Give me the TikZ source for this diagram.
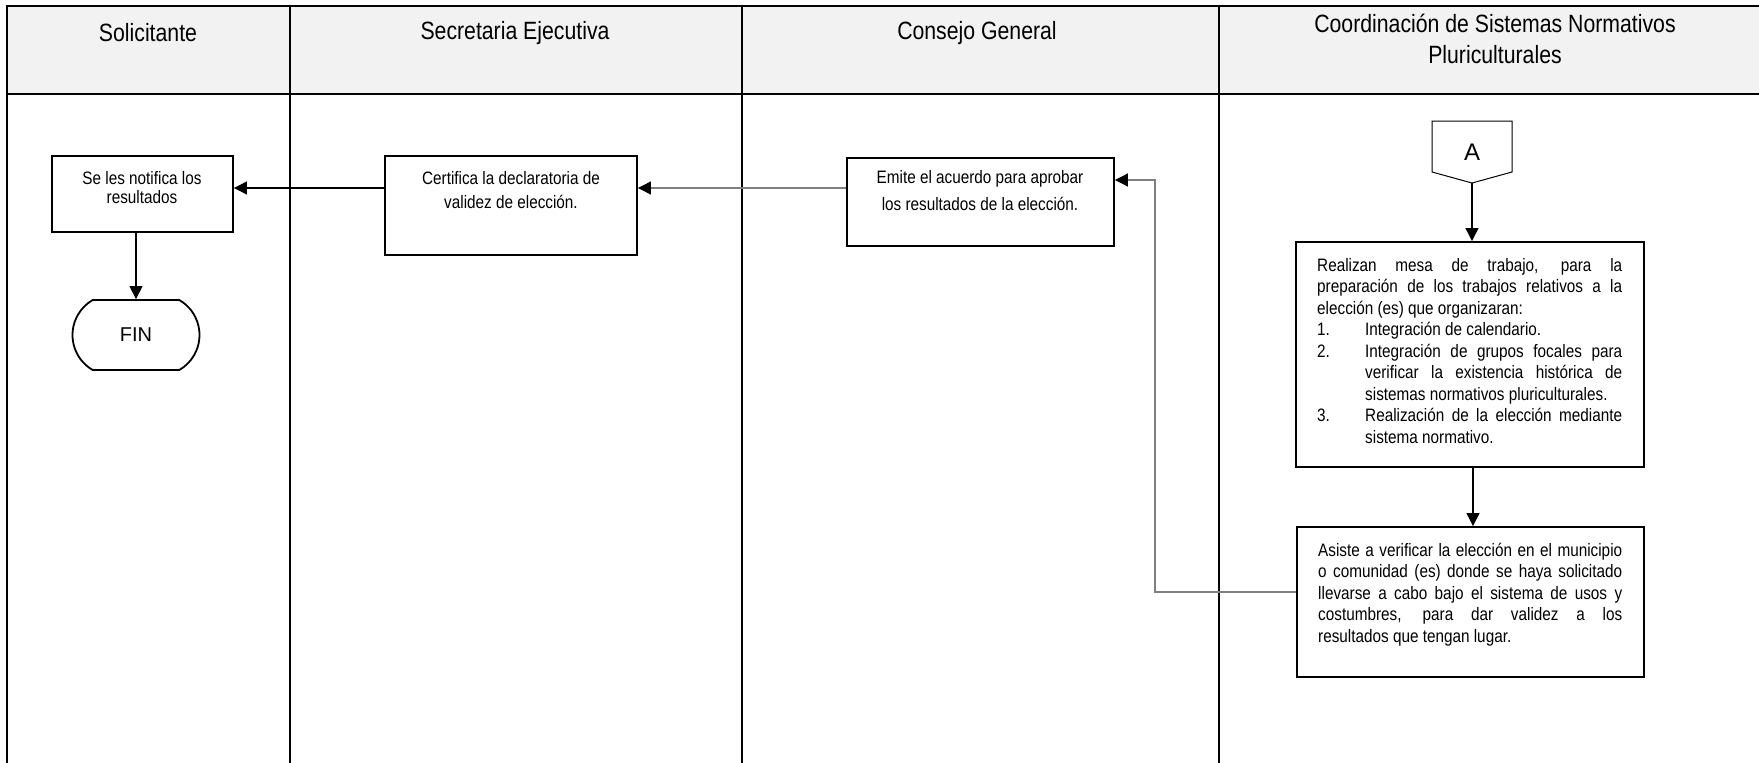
\documentclass[tikz,border=0pt]{standalone}
\usepackage{fontspec}
\setmainfont{Liberation Sans}
\newfontfamily\nar[FakeStretch=0.85]{Liberation Sans}
\usetikzlibrary{arrows.meta,shapes.misc,shadows}
\newcommand\lstitem[1]{\par\leftskip=48pt\noindent\llap{\makebox[48pt][l]{#1}}}
\begin{document}
\begin{tikzpicture}[x=1pt,y=-1pt,
  lane/.style={line width=2pt},
  box/.style={draw, line width=1.9pt, fill=white, inner sep=0pt,
    drop shadow={shadow xshift=1.3pt, shadow yshift=-1.3pt, fill=black!40, opacity=1}},
  hdr/.style={font=\nar\fontsize{25}{31}\selectfont, align=center, inner sep=0pt},
  txt/.style={inner sep=0pt},
  blk/.style={-{Triangle[length=13pt,width=13pt]}, line width=1.2pt},
  gry/.style={draw=black!50, -{Triangle[length=13pt,width=13pt,color=black]}, line width=1.2pt},
]
\useasboundingbox (0,0) rectangle (1759,763);
% header
\fill[black!5] (7,6) rectangle (1759,94);
\draw[lane] (6,6) -- (1759,6);
\draw[lane] (6,94) -- (1759,94);
\draw[lane] (7,5) -- (7,763);
\draw[lane] (290,5) -- (290,763);
\draw[lane] (742,5) -- (742,763);
\draw[lane] (1219,5) -- (1219,763);
\node[hdr] (h1) at (148,33) {Solicitante};
\node[hdr] (h2) at (515,33) {Secretaria Ejecutiva};
\node[hdr] (h3) at (977,33) {Consejo General};
\node[hdr] (h4) at (1495,39) {Coordinación de Sistemas Normativos\\Pluriculturales};

% Solicitante
\node[box, minimum width=181pt, minimum height=76pt] (notif) at (142.5,194) {};
\node[txt, align=center, anchor=north, font=\nar\fontsize{18}{19}\selectfont] (notift) at (142,171) {Se les notifica los\\resultados};
\node[draw, rounded rectangle, rounded rectangle arc length=120, line width=1.8pt,
  minimum width=127pt, minimum height=70pt, inner sep=0pt,
  font=\fontsize{20}{24}\selectfont] (fin) at (136,335) {FIN};

% Secretaria
\node[box, minimum width=252pt, minimum height=99pt] (cert) at (511,205.5) {};
\node[txt, align=center, anchor=north, font=\nar\fontsize{18}{24}\selectfont] (certt) at (511,171) {Certifica la declaratoria de\\validez de elección.};

% Consejo
\node[box, minimum width=267pt, minimum height=88pt] (emite) at (980.5,202) {};
\node[txt, align=center, anchor=north, font=\nar\fontsize{18}{27}\selectfont] (emitet) at (980,170) {Emite el acuerdo para aprobar\\los resultados de la elección.};

% Coordinacion
\draw[line width=1pt] (1432,121) -- (1512,121) -- (1512,172) -- (1472,183) -- (1432,172) -- cycle;
\node[font=\fontsize{24}{28}\selectfont, inner sep=0pt] (A) at (1472,152) {A};
\coordinate (Apt) at (1472,183);

\node[box, minimum width=348pt, minimum height=225pt] (real) at (1470,354.5) {};
\node[txt, anchor=north west, text width=305pt, align=justify, font=\nar\fontsize{18}{21.5}\selectfont] (realt) at (1317,258)
{Realizan mesa de trabajo, para la\linebreak preparación de los trabajos relativos a la\linebreak elección (es) que organizaran:
\lstitem{1.}Integración de calendario.
\lstitem{2.}Integración de grupos focales para\linebreak verificar la existencia histórica de\linebreak sistemas normativos pluriculturales.
\lstitem{3.}Realización de la elección mediante\linebreak sistema normativo.\par};

\node[box, minimum width=347pt, minimum height=150pt] (asis) at (1470.5,602) {};
\node[txt, anchor=north west, text width=304pt, align=justify, font=\nar\fontsize{18}{21.5}\selectfont] (asist) at (1318,543)
{Asiste a verificar la elección en el municipio\linebreak o comunidad (es) donde se haya solicitado\linebreak llevarse a cabo bajo el sistema de usos y\linebreak costumbres, para dar validez a los\linebreak resultados que tengan lugar.\par};

% connectors
\draw[blk] (notif.south -| fin.north) -- (fin.north);
\draw[blk] (cert.west |- 0,188) -- (notif.east |- 0,188);
\draw[gry] (emite.west |- 0,188) -- (cert.east |- 0,188);
\draw[blk] (Apt) -- (real.north -| Apt);
\draw[blk] (real.south -| 1473,0) -- (asis.north -| 1473,0);
\draw[gry] (asis.west |- 0,592) -| (1155,180) -- (emite.east |- 0,180);
\end{tikzpicture}
\end{document}
